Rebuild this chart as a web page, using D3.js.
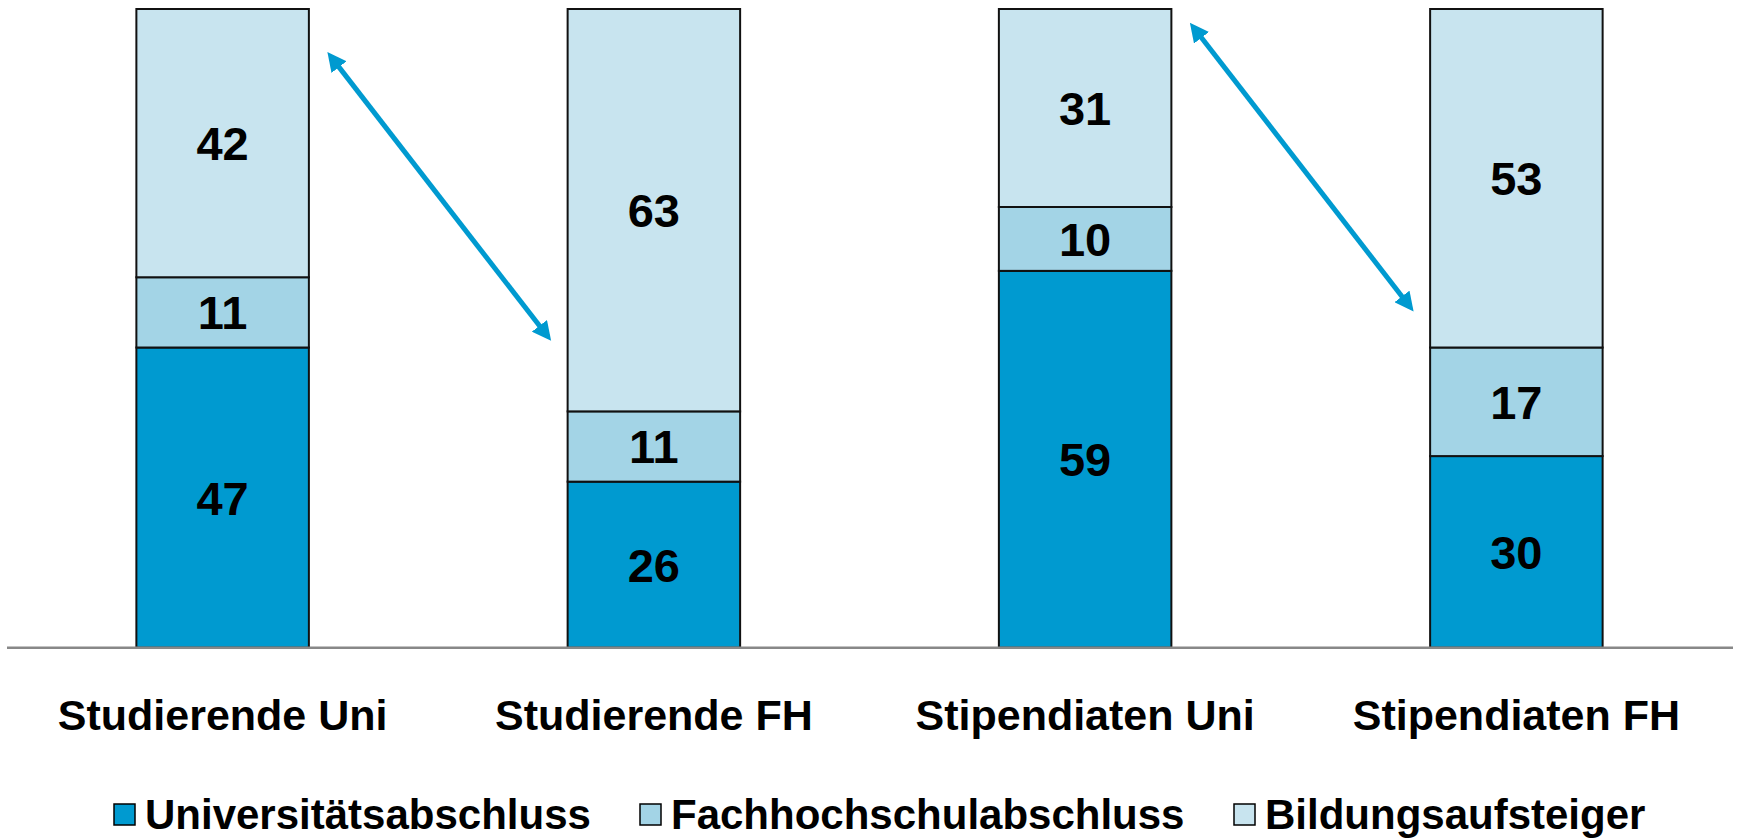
<!DOCTYPE html>
<html>
<head>
<meta charset="utf-8">
<script src="https://cdn.jsdelivr.net/npm/d3@7"></script>
<style>
  body { margin: 0; background: #fff; }
  svg { display: block; font-family: Arial, 'Liberation Sans', sans-serif; }
</style>
</head>
<body>
<svg width="1737" height="838"></svg>
<script>
// categorieen en reeksen
const categories = ['Studierende Uni', 'Studierende FH', 'Stipendiaten Uni', 'Stipendiaten FH'];
const seriesNames = ['Universitätsabschluss', 'Fachhochschulabschluss', 'Bildungsaufsteiger'];
const universitaet = [47, 26, 59, 30];
const fachhochschule = [11, 11, 10, 17];
const aufsteiger = [42, 63, 31, 53];
const colors = ['#009ad0', '#a3d4e6', '#c8e4ef'];

// pijlen tussen de balken (waarden op de y-as)
const arrows = [
  { from: 'Studierende Uni', to: 'Studierende FH', yFrom: 92, yTo: 49.3 },
  { from: 'Stipendiaten Uni', to: 'Stipendiaten FH', yFrom: 96.6, yTo: 53.9 }
];

const svg = d3.select('svg');

const rows = categories.map((c, i) => ({
  category: c,
  [seriesNames[0]]: universitaet[i],
  [seriesNames[1]]: fachhochschule[i],
  [seriesNames[2]]: aufsteiger[i]
}));

const stacked = d3.stack().keys(seriesNames)(rows);

const xScale = d3.scaleBand()
  .domain(categories)
  .range([7, 1732])
  .paddingInner(0.6)
  .paddingOuter(0.3);

const yScale = d3.scaleLinear()
  .domain([0, 100])
  .range([647.7, 9]);

const color = d3.scaleOrdinal().domain(seriesNames).range(colors);

// balken
const layers = svg.append('g')
  .selectAll('g')
  .data(stacked)
  .enter().append('g')
    .attr('fill', d => color(d.key));

layers.selectAll('rect')
  .data(d => d)
  .enter().append('rect')
    .attr('x', d => xScale(d.data.category))
    .attr('width', xScale.bandwidth())
    .attr('y', d => yScale(d[1]))
    .attr('height', d => yScale(d[0]) - yScale(d[1]))
    .attr('stroke', '#111')
    .attr('stroke-width', 2);

// waarden in de balken
layers.selectAll('text')
  .data(d => d)
  .enter().append('text')
    .attr('x', d => xScale(d.data.category) + xScale.bandwidth() / 2)
    .attr('y', d => yScale((d[0] + d[1]) / 2))
    .attr('dy', '0.36em')
    .attr('text-anchor', 'middle')
    .style('font-size', '47px')
    .style('font-weight', 'bold')
    .style('fill', '#000')
    .text(d => d[1] - d[0]);

// x-as
const xAxis = svg.append('g')
  .attr('transform', `translate(0,${yScale(0)})`)
  .call(d3.axisBottom(xScale).tickSize(0).tickPadding(52));

xAxis.select('.domain')
  .attr('d', 'M7,0H1733')
  .attr('stroke', '#888')
  .attr('stroke-width', 2.5);

xAxis.selectAll('.tick text')
  .style('font-size', '43px')
  .style('font-weight', 'bold')
  .style('font-family', "Arial, 'Liberation Sans', sans-serif")
  .style('fill', '#000');

// pijlpunten
const defs = svg.append('defs');
['start', 'end'].forEach(kind => {
  defs.append('marker')
    .attr('id', 'head-' + kind)
    .attr('viewBox', '0 0 10 10')
    .attr('refX', 7)
    .attr('refY', 5)
    .attr('markerUnits', 'userSpaceOnUse')
    .attr('markerWidth', 19)
    .attr('markerHeight', 19)
    .attr('orient', 'auto-start-reverse')
    .append('path')
      .attr('d', 'M0,0L10,5L0,10Z')
      .attr('fill', '#009ad0');
});

svg.append('g')
  .selectAll('line')
  .data(arrows)
  .enter().append('line')
    .attr('x1', d => xScale(d.from) + xScale.bandwidth() + 22)
    .attr('y1', d => yScale(d.yFrom) - 3.5)
    .attr('x2', d => xScale(d.to) - 20)
    .attr('y2', d => yScale(d.yTo) + 3.5)
    .attr('stroke', '#009ad0')
    .attr('stroke-width', 5)
    .attr('marker-start', 'url(#head-start)')
    .attr('marker-end', 'url(#head-end)');

// legenda
const legendX = [114, 640, 1234];
const legend = svg.append('g')
  .selectAll('g')
  .data(seriesNames)
  .enter().append('g')
    .attr('transform', (d, i) => `translate(${legendX[i]},814)`);

legend.append('rect')
  .attr('x', 0)
  .attr('y', -10)
  .attr('width', 21)
  .attr('height', 21)
  .attr('fill', d => color(d))
  .attr('stroke', '#000')
  .attr('stroke-width', 1.5);

legend.append('text')
  .attr('x', 31)
  .attr('y', 0)
  .attr('dy', '0.35em')
  .style('font-size', '42px')
  .style('font-weight', 'bold')
  .style('fill', '#000')
  .text(d => d);
</script>
</body>
</html>
